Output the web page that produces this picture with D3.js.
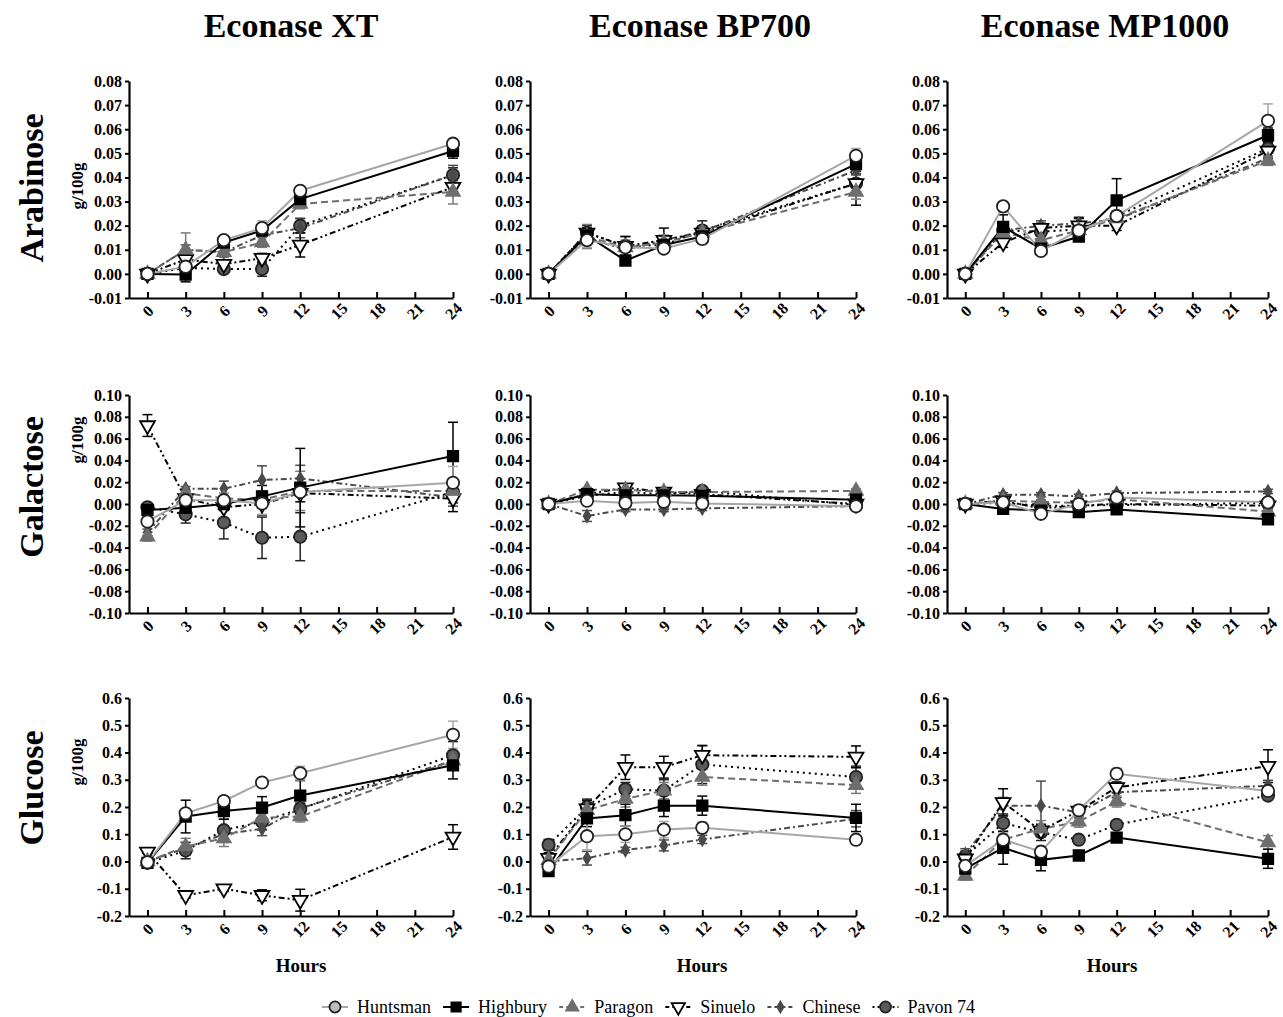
<!DOCTYPE html>
<html><head><meta charset="utf-8">
<script src="https://cdn.jsdelivr.net/npm/d3@7"></script>
<style>
body{margin:0;background:#fff;}
svg text{font-family:"Liberation Serif","Times New Roman",serif;}
</style></head><body>
<svg id="chart" width="1283" height="1017"></svg>
<script>
// ---------------- DATA ----------------
const hours = [0, 3, 6, 9, 12, 24];
const xTicks = [0, 3, 6, 9, 12, 15, 18, 21, 24];
const enzymes = ["Econase XT", "Econase BP700", "Econase MP1000"];
const sugars = ["Arabinose", "Galactose", "Glucose"];
const unitLabel = "g/100g";
const xLabel = "Hours";
const varieties = ["Huntsman", "Highbury", "Paragon", "Sinuelo", "Chinese", "Pavon 74"];
const arabinoseTicks = [-0.01, 0.00, 0.01, 0.02, 0.03, 0.04, 0.05, 0.06, 0.07, 0.08];
const galactoseTicks = [-0.10, -0.08, -0.06, -0.04, -0.02, 0.00, 0.02, 0.04, 0.06, 0.08, 0.10];
const glucoseTicks = [-0.2, -0.1, 0.0, 0.1, 0.2, 0.3, 0.4, 0.5, 0.6];

// rows: Huntsman, Highbury, Paragon, Sinuelo, Chinese, Pavon 74 ; columns: hours
const arabinoseXT = [
  [0, 0.003, 0.014, 0.019, 0.0345, 0.054],
  [0, -0.0003, 0.013, 0.018, 0.031, 0.051],
  [0, 0.010, 0.009, 0.013, 0.029, 0.034],
  [0, 0.006, 0.004, 0.0065, 0.012, 0.036],
  [0, 0.010, 0.009, 0.016, 0.019, 0.041],
  [0, 0.0025, 0.002, 0.002, 0.020, 0.041]
];
const arabinoseXTErr = [
  [0, 0.001, 0.002, 0.003, 0.001, 0.002],
  [0, 0.003, 0.001, 0.001, 0.001, 0.003],
  [0, 0.007, 0.002, 0.002, 0.002, 0.005],
  [0, 0.002, 0.001, 0.002, 0.005, 0.003],
  [0, 0.002, 0.002, 0.003, 0.004, 0.004],
  [0, 0.001, 0.001, 0.003, 0.003, 0.003]
];
const arabinoseBP = [
  [0, 0.014, 0.011, 0.0105, 0.0145, 0.049],
  [0, 0.016, 0.0055, 0.012, 0.0155, 0.0455],
  [0, 0.0155, 0.011, 0.013, 0.017, 0.034],
  [0, 0.017, 0.0115, 0.014, 0.017, 0.0375],
  [0, 0.015, 0.010, 0.014, 0.0175, 0.043],
  [0, 0.017, 0.0115, 0.012, 0.018, 0.0375]
];
const arabinoseBPErr = [
  [0, 0.003, 0.002, 0.002, 0.002, 0.003],
  [0, 0.002, 0.001, 0.002, 0.002, 0.003],
  [0, 0.005, 0.003, 0.002, 0.003, 0.003],
  [0, 0.002, 0.004, 0.005, 0.002, 0.009],
  [0, 0.002, 0.002, 0.002, 0.002, 0.002],
  [0, 0.003, 0.004, 0.003, 0.004, 0.004]
];
const arabinoseMP = [
  [0, 0.028, 0.0095, 0.018, 0.024, 0.0635],
  [0, 0.0195, 0.0105, 0.0155, 0.0305, 0.0575],
  [0, 0.017, 0.014, 0.018, 0.023, 0.047],
  [0, 0.013, 0.019, 0.020, 0.020, 0.051],
  [0, 0.018, 0.020, 0.021, 0.0225, 0.048],
  [0, 0.018, 0.0175, 0.0185, 0.024, 0.052]
];
const arabinoseMPErr = [
  [0, 0.002, 0.001, 0.002, 0.002, 0.007],
  [0, 0.005, 0.001, 0.001, 0.009, 0.003],
  [0, 0.003, 0.002, 0.002, 0.002, 0.002],
  [0, 0.002, 0.002, 0.003, 0.002, 0.003],
  [0, 0.002, 0.002, 0.002, 0.002, 0.002],
  [0, 0.003, 0.002, 0.005, 0.002, 0.003]
];
const galactoseXT = [
  [-0.016, 0.0035, 0.0035, 0.0005, 0.011, 0.0195],
  [-0.0055, -0.0035, 0.000, 0.007, 0.015, 0.044],
  [-0.030, 0.010, 0.005, 0.004, 0.012, 0.012],
  [0.072, 0.005, -0.003, 0.000, 0.010, 0.005],
  [-0.026, 0.014, 0.014, 0.022, 0.0235, 0.006],
  [-0.003, -0.0095, -0.017, -0.031, -0.030, 0.011]
];
const galactoseXTErr = [
  [0.003, 0.003, 0.006, 0.010, 0.003, 0.015],
  [0.002, 0.004, 0.003, 0.010, 0.036, 0.031],
  [0.004, 0.003, 0.005, 0.008, 0.018, 0.005],
  [0.010, 0.004, 0.003, 0.010, 0.008, 0.012],
  [0.003, 0.002, 0.007, 0.013, 0.012, 0.008],
  [0.002, 0.008, 0.015, 0.019, 0.022, 0.010]
];
const galactoseBP = [
  [0, 0.003, 0.001, 0.002, 0.0005, -0.002],
  [0, 0.009, 0.008, 0.008, 0.0075, 0.004],
  [0, 0.013, 0.013, 0.011, 0.011, 0.012],
  [0, 0.009, 0.015, 0.011, 0.009, 0.000],
  [0, -0.011, -0.005, -0.005, -0.004, -0.002],
  [0, 0.0075, 0.011, 0.009, 0.012, -0.001]
];
const galactoseBPErr = [
  [0, 0.002, 0.002, 0.002, 0.002, 0.002],
  [0, 0.002, 0.002, 0.002, 0.002, 0.002],
  [0, 0.002, 0.003, 0.002, 0.002, 0.002],
  [0, 0.002, 0.003, 0.002, 0.002, 0.002],
  [0, 0.005, 0.002, 0.002, 0.002, 0.002],
  [0, 0.002, 0.002, 0.002, 0.002, 0.002]
];
const galactoseMP = [
  [0, 0.0015, -0.009, 0, 0.006, 0.0015],
  [0, -0.0045, -0.006, -0.0075, -0.005, -0.014],
  [0, 0.003, 0.002, 0.001, 0.0045, -0.007],
  [0, 0.003, -0.004, -0.0015, 0, -0.0015],
  [0, 0.0085, 0.0085, 0.007, 0.010, 0.0115],
  [0, 0.001, -0.0015, -0.0015, -0.001, 0.001]
];
const galactoseMPErr = [
  [0, 0.002, 0.002, 0.002, 0.002, 0.002],
  [0, 0.002, 0.002, 0.002, 0.002, 0.002],
  [0, 0.002, 0.002, 0.002, 0.002, 0.002],
  [0, 0.002, 0.002, 0.002, 0.002, 0.002],
  [0, 0.002, 0.002, 0.002, 0.002, 0.002],
  [0, 0.002, 0.002, 0.002, 0.002, 0.002]
];
const glucoseXT = [
  [-0.003, 0.177, 0.222, 0.29, 0.324, 0.465],
  [-0.005, 0.165, 0.185, 0.198, 0.242, 0.353],
  [0, 0.055, 0.085, 0.16, 0.165, 0.37],
  [0.035, -0.124, -0.10, -0.124, -0.142, 0.09],
  [0, 0.05, 0.10, 0.12, 0.195, 0.37],
  [-0.005, 0.04, 0.115, 0.146, 0.193, 0.39]
];
const glucoseXTErr = [
  [0.005, 0.01, 0.01, 0.01, 0.025, 0.05],
  [0.005, 0.06, 0.03, 0.04, 0.055, 0.05],
  [0.005, 0.03, 0.03, 0.02, 0.02, 0.03],
  [0.005, 0.01, 0.01, 0.02, 0.04, 0.045],
  [0.005, 0.02, 0.03, 0.025, 0.02, 0.03],
  [0.005, 0.03, 0.04, 0.03, 0.02, 0.05]
];
const glucoseBP = [
  [-0.018, 0.093, 0.10, 0.117, 0.124, 0.08],
  [-0.035, 0.158, 0.17, 0.205, 0.205, 0.16],
  [0.005, 0.188, 0.23, 0.26, 0.31, 0.28],
  [0.012, 0.194, 0.346, 0.346, 0.39, 0.384],
  [0, 0.012, 0.042, 0.059, 0.081, 0.157],
  [0.061, 0.199, 0.265, 0.26, 0.356, 0.31]
];
const glucoseBPErr = [
  [0.01, 0.05, 0.03, 0.03, 0.02, 0.01],
  [0.01, 0.03, 0.04, 0.04, 0.035, 0.05],
  [0.01, 0.03, 0.03, 0.03, 0.03, 0.03],
  [0.02, 0.03, 0.045, 0.04, 0.035, 0.04],
  [0.01, 0.025, 0.01, 0.02, 0.015, 0.03],
  [0.02, 0.03, 0.025, 0.04, 0.07, 0.04]
];
const glucoseMP = [
  [-0.016, 0.08, 0.036, 0.188, 0.322, 0.259],
  [-0.026, 0.05, 0.006, 0.022, 0.088, 0.01],
  [-0.053, 0.08, 0.12, 0.146, 0.22, 0.07],
  [0.01, 0.217, 0.113, 0.186, 0.272, 0.35],
  [0.027, 0.205, 0.205, 0.18, 0.254, 0.278],
  [0.018, 0.141, 0.107, 0.08, 0.135, 0.242]
];
const glucoseMPErr = [
  [0.01, 0.02, 0.02, 0.02, 0.02, 0.01],
  [0.01, 0.06, 0.04, 0.01, 0.01, 0.035],
  [0.015, 0.02, 0.03, 0.02, 0.02, 0.025],
  [0.01, 0.05, 0.02, 0.02, 0.02, 0.06],
  [0.02, 0.03, 0.09, 0.02, 0.02, 0.02],
  [0.02, 0.03, 0.03, 0.01, 0.01, 0.01]
];

// ---------------- LAYOUT / STYLE ----------------
const svg = d3.select("#chart");
const colAxisX = [129, 530, 947];
const colEndX = [453, 856, 1268];
const rowTop = [81, 395, 698];
const rowBottom = [298, 613, 916];
const rowDomains = [[-0.01, 0.08], [-0.10, 0.10], [-0.2, 0.6]];
const rowTicks = [arabinoseTicks, galactoseTicks, glucoseTicks];
const rowFmt = [d => d.toFixed(2), d => d.toFixed(2), d => d.toFixed(1)];
const panelData = [
  [[arabinoseXT, arabinoseXTErr], [arabinoseBP, arabinoseBPErr], [arabinoseMP, arabinoseMPErr]],
  [[galactoseXT, galactoseXTErr], [galactoseBP, galactoseBPErr], [galactoseMP, galactoseMPErr]],
  [[glucoseXT, glucoseXTErr], [glucoseBP, glucoseBPErr], [glucoseMP, glucoseMPErr]]
];

const styles = [
  {line: "#a6a6a6", dash: null, shape: d3.symbolCircle, size: 120, fill: "#fff", stroke: "#222", err: "#a6a6a6", rot: 0},
  {line: "#000", dash: null, shape: d3.symbolSquare, size: 110, fill: "#000", stroke: "#000", err: "#000", rot: 0},
  {line: "#6e6e6e", dash: "7,4", shape: d3.symbolTriangle, size: 80, fill: "#6e6e6e", stroke: "#6e6e6e", err: "#7a7a7a", rot: 0},
  {line: "#000", dash: "6,3,2,3,2,3", shape: d3.symbolTriangle, size: 95, fill: "#fff", stroke: "#000", err: "#000", rot: 180},
  {line: "#4a4a4a", dash: "6,3,2,3", shape: d3.symbolDiamond, size: 42, fill: "#4a4a4a", stroke: "#4a4a4a", err: "#4a4a4a", rot: 0},
  {line: "#000", dash: "2,4", shape: d3.symbolCircle, size: 120, fill: "#5a5a5a", stroke: "#222", err: "#222", rot: 0}
];

const serif = "'Liberation Serif','Times New Roman',serif";

// column titles
enzymes.forEach((e, c) => {
  svg.append("text").attr("x", [291, 700, 1105][c]).attr("y", 37)
    .attr("text-anchor", "middle").attr("font-size", 34).attr("font-weight", "bold").text(e);
});

// row labels
sugars.forEach((s, r) => {
  const cy = [188, 487, 788][r];
  svg.append("text").attr("transform", `translate(43,${cy}) rotate(-90)`)
    .attr("text-anchor", "middle").attr("font-size", 34).attr("font-weight", "bold").text(s);
  const uy = [186, 440, 762][r];
  svg.append("text").attr("transform", `translate(83,${uy}) rotate(-90)`)
    .attr("text-anchor", "middle").attr("font-size", 17).attr("font-weight", "bold").text(unitLabel);
});

// panels
for (let r = 0; r < 3; r++) {
  for (let c = 0; c < 3; c++) {
    const x = d3.scaleLinear().domain([-1.45, 24]).range([colAxisX[c], colEndX[c]]);
    const y = d3.scaleLinear().domain(rowDomains[r]).range([rowBottom[r], rowTop[r]]);
    const g = svg.append("g");

    const yAxis = g.append("g").attr("transform", `translate(${colAxisX[c]},0)`)
      .call(d3.axisLeft(y).tickValues(rowTicks[r]).tickFormat(rowFmt[r]).tickSizeInner(4).tickSizeOuter(0).tickPadding(3));
    yAxis.select(".domain").attr("stroke-width", 2.2);
    yAxis.selectAll(".tick line").attr("stroke-width", 2);
    yAxis.selectAll("text").attr("font-size", 16).attr("font-weight", "bold")
      .attr("font-family", serif).attr("fill", "#000");

    const xAxis = g.append("g").attr("transform", `translate(0,${rowBottom[r]})`)
      .call(d3.axisBottom(x).tickValues(xTicks).tickSizeInner(-6).tickSizeOuter(0).tickFormat(d => d));
    xAxis.select(".domain").attr("stroke-width", 2.2);
    xAxis.selectAll(".tick line").attr("stroke-width", 2);
    xAxis.selectAll("text").attr("font-size", 16).attr("font-weight", "bold")
      .attr("font-family", serif).attr("fill", "#000")
      .attr("x", 0).attr("y", 0).attr("dy", "0.35em").attr("text-anchor", "middle")
      .attr("transform", "translate(0,13) rotate(-45)");

    const [vals, errs] = panelData[r][c];
    const order = [5, 4, 3, 2, 1, 0];
    // error bars
    order.forEach(i => {
      const st = styles[i];
      hours.forEach((h, k) => {
        const e = errs[i][k];
        if (!e) return;
        const cx = x(h), v = vals[i][k];
        const y1 = y(v + e), y2 = y(v - e);
        g.append("line").attr("x1", cx).attr("x2", cx).attr("y1", y1).attr("y2", y2)
          .attr("stroke", st.err).attr("stroke-width", 1.5);
        [y1, y2].forEach(yy => g.append("line").attr("x1", cx - 5).attr("x2", cx + 5).attr("y1", yy).attr("y2", yy)
          .attr("stroke", st.err).attr("stroke-width", 1.5));
      });
    });
    // lines
    const lineGen = d3.line().x((d, k) => x(hours[k])).y(d => y(d));
    order.forEach(i => {
      const st = styles[i];
      g.append("path").datum(vals[i]).attr("d", lineGen).attr("fill", "none")
        .attr("stroke", st.line).attr("stroke-width", 2).attr("stroke-dasharray", st.dash);
    });
    // markers
    order.forEach(i => {
      const st = styles[i];
      const sym = d3.symbol().type(st.shape).size(st.size);
      g.selectAll(null).data(vals[i]).enter().append("path")
        .attr("d", sym)
        .attr("transform", (d, k) => `translate(${x(hours[k])},${y(d)}) rotate(${st.rot})`)
        .attr("fill", st.fill).attr("stroke", st.stroke).attr("stroke-width", 1.8);
    });

    if (r === 2) {
      svg.append("text").attr("x", [301, 702, 1112][c]).attr("y", 972)
        .attr("text-anchor", "middle").attr("font-size", 19).attr("font-weight", "bold").text(xLabel);
    }
  }
}

// legend
const legend = svg.append("g");
const items = [];
varieties.forEach((v, i) => {
  const it = legend.append("g");
  const st = styles[i];
  it.append("line").attr("x1", -13).attr("x2", 13).attr("y1", 0).attr("y2", 0)
    .attr("stroke", st.line).attr("stroke-width", 2).attr("stroke-dasharray", i === 5 ? "2,3" : (st.dash ? "4,3" : null));
  it.append("path").attr("d", d3.symbol().type(st.shape).size(st.size * 0.8))
    .attr("transform", `rotate(${st.rot})`)
    .attr("fill", i === 0 ? "#bdbdbd" : st.fill).attr("stroke", st.stroke).attr("stroke-width", 1.8);
  const t = it.append("text").attr("x", 22).attr("y", 6).attr("font-size", 18).text(v);
  items.push({g: it, w: 22 + t.node().getComputedTextLength()});
});
const startX = 335, endX = 975;
const totalW = d3.sum(items, d => d.w) + 13 * items.length;
const gap = (endX - startX + 13 - totalW) / (items.length - 1);
let cx = startX;
items.forEach(d => {
  d.g.attr("transform", `translate(${cx},1007)`);
  cx += d.w + gap + 13;
});
</script>
</body></html>
